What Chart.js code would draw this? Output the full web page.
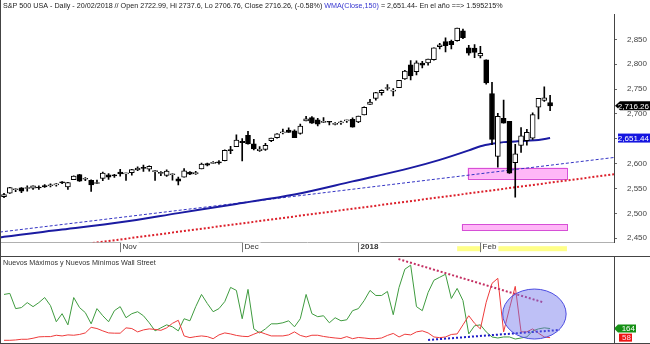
<!DOCTYPE html>
<html>
<head>
<meta charset="utf-8">
<script src="https://cdn.jsdelivr.net/npm/chart.js@4.4.1/dist/chart.umd.min.js"></script>
<style>
  body { margin: 0; background: #fff; }
  #wrap { position: relative; width: 650px; height: 344px; }
  .box { position: absolute; left: 0; width: 650px; }
</style>
</head>
<body>
<div id="wrap">
  <div class="box" style="top:0;height:257px"><canvas id="main"></canvas></div>
  <div class="box" style="top:257px;height:87px"><canvas id="ind"></canvas></div>
</div>
<script>
// trading days shown (dd/mm)
const days = [
  '04/10','05/10','06/10','09/10','10/10','11/10','12/10','13/10','16/10','17/10','18/10','19/10','20/10','23/10','24/10','25/10','26/10','27/10','30/10','31/10',
  '01/11','02/11','03/11','06/11','07/11','08/11','09/11','10/11','13/11','14/11','15/11','16/11','17/11','20/11','21/11','22/11','24/11','27/11','28/11','29/11','30/11',
  '01/12','04/12','05/12','06/12','07/12','08/12','11/12','12/12','13/12','14/12','15/12','18/12','19/12','20/12','21/12','22/12','26/12','27/12','28/12','29/12',
  '02/01','03/01','04/01','05/01','08/01','09/01','10/01','11/01','12/01','16/01','17/01','18/01','19/01','22/01','23/01','24/01','25/01','26/01','29/01','30/01','31/01',
  '01/02','02/02','05/02','06/02','07/02','08/02','09/02','12/02','13/02','14/02','15/02','16/02','20/02'
];

const opens = [
  2533.48,2540.86,2547.44,2551.39,2549.99,2550.62,2552.88,2555.66,2555.57,2557.17,2562.87,2553.39,2567.56,2578.08,2568.66,2566.52,2560.08,2570.26,2577.75,2575.99,
  2583.21,2579.46,2581.93,2587.47,2592.11,2588.71,2584.00,2580.18,2576.53,2577.75,2569.45,2572.95,2582.94,2579.49,2589.17,2600.31,2600.42,2602.66,2605.94,2627.82,2633.93,
  2645.10,2657.19,2639.78,2626.24,2628.38,2646.21,2652.19,2661.73,2667.59,2665.87,2660.63,2685.92,2692.71,2688.18,2683.02,2684.22,2679.09,2682.10,2686.10,2689.15,
  2683.73,2697.85,2719.31,2731.33,2742.67,2751.15,2745.55,2752.97,2770.18,2798.96,2784.99,2802.40,2802.60,2809.16,2835.05,2845.42,2846.24,2847.48,2867.23,2832.74,2832.41,
  2816.45,2808.92,2741.06,2614.78,2690.95,2685.01,2601.78,2636.75,2646.27,2651.21,2713.46,2727.14,2722.99
];
const highs = [
  2540.53,2552.51,2549.41,2551.82,2555.23,2555.24,2555.33,2557.65,2559.47,2559.71,2564.11,2562.36,2575.44,2578.29,2572.18,2567.40,2567.07,2582.98,2580.03,2578.29,
  2588.40,2581.11,2588.42,2593.38,2597.02,2595.47,2586.50,2583.81,2587.66,2579.66,2572.84,2590.09,2583.96,2584.64,2601.19,2600.94,2604.21,2606.41,2627.69,2634.89,2657.74,
  2650.62,2665.19,2648.72,2634.41,2640.99,2651.65,2660.33,2669.72,2671.88,2668.09,2679.63,2694.97,2694.44,2691.01,2692.64,2685.35,2682.74,2685.64,2687.66,2692.12,
  2695.89,2714.37,2729.29,2743.45,2748.51,2759.14,2750.80,2767.56,2787.85,2807.54,2807.04,2805.83,2810.33,2833.03,2842.24,2852.97,2848.56,2872.87,2870.62,2837.75,2839.26,
  2835.96,2808.92,2763.39,2701.04,2727.67,2685.27,2638.67,2672.61,2668.84,2702.10,2731.51,2754.42,2737.60
];
const lows = [
  2531.80,2540.02,2543.79,2541.60,2544.86,2547.95,2548.31,2552.09,2553.24,2554.69,2559.67,2547.92,2567.56,2564.33,2565.58,2544.00,2559.80,2565.94,2568.25,2572.15,
  2574.92,2566.17,2576.77,2585.66,2584.35,2585.02,2566.33,2575.57,2574.48,2566.56,2557.45,2572.95,2577.62,2578.24,2589.17,2595.23,2600.42,2598.87,2605.44,2620.32,2633.93,
  2605.52,2639.03,2627.73,2624.75,2626.53,2644.10,2651.47,2659.78,2662.85,2652.01,2659.14,2685.92,2680.74,2676.11,2682.40,2678.13,2677.96,2678.91,2682.69,2673.61,
  2682.36,2697.77,2719.07,2727.92,2737.60,2747.86,2736.06,2752.78,2769.64,2768.64,2778.38,2792.56,2798.08,2808.12,2830.59,2824.81,2830.94,2846.18,2851.48,2818.27,2813.04,
  2812.70,2759.97,2638.17,2593.07,2681.33,2580.56,2532.69,2622.45,2637.08,2648.87,2689.82,2725.11,2706.76
];
const closes = [
  2537.74,2552.07,2549.33,2544.73,2550.64,2555.24,2550.93,2553.17,2557.64,2559.36,2561.26,2562.10,2575.21,2564.98,2569.13,2557.15,2560.40,2581.07,2572.83,2575.26,
  2579.36,2579.85,2587.84,2591.13,2590.64,2594.38,2584.62,2582.30,2584.84,2578.87,2564.62,2585.64,2578.85,2582.14,2599.03,2597.08,2602.42,2601.42,2627.04,2626.07,2647.58,
  2642.22,2639.44,2629.57,2629.27,2636.98,2651.50,2659.99,2664.11,2662.85,2652.01,2675.81,2690.16,2681.47,2679.25,2684.57,2683.34,2680.50,2682.62,2687.54,2673.61,
  2695.81,2713.06,2723.99,2743.15,2747.71,2751.29,2748.23,2767.56,2786.24,2776.42,2802.56,2798.03,2810.30,2832.97,2839.13,2837.54,2839.25,2872.87,2853.53,2822.43,2823.81,
  2821.98,2762.13,2648.94,2695.14,2681.66,2581.00,2619.55,2656.00,2662.94,2698.63,2731.20,2732.22,2716.26
];

// WMA(Close,150) (candle index -> value)
const wmaIdx  = [-0.69, 0, 10, 20, 30, 40, 50, 60, 70, 75, 80, 82, 84, 86, 88, 90, 92, 94];
const wmaVals = [2451.5, 2452.8, 2467.4, 2482, 2500.5, 2519, 2537.8, 2564.3, 2591.5, 2607.6, 2626.7, 2635, 2640, 2643.3, 2644.6, 2646, 2647.8, 2651.44];

// new highs / new lows (lower panel)
const newHighs = [
  561,573,396,408,466,419,466,525,431,243,337,207,525,408,349,219,396,313,243,372,
  419,290,337,360,313,231,137,172,207,184,137,278,254,419,561,455,360,396,478,643,608,
  278,620,160,113,160,219,219,231,254,184,278,561,337,302,313,231,290,254,266,372,
  396,490,608,549,549,596,325,643,855,902,419,372,584,726,761,796,514,631,490,101,196,
  207,125,66,54,66,66,42,54,66,137,160,172,164
];
const newLows = [
  27,27,31,39,39,51,67,70,70,86,78,90,86,95,113,178,164,137,113,110,
  110,172,164,125,148,160,154,143,172,225,260,78,58,70,78,70,46,90,113,101,84,
  74,70,98,125,101,78,78,78,90,125,84,66,86,86,72,62,54,48,70,46,
  60,54,46,46,54,84,107,66,98,90,125,137,113,66,58,66,95,101,207,313,225,
  160,470,690,749,125,396,655,125,125,160,110,66,58
];

// axis ticks
const xMin = -0.69, xMax = 105;
const monthTicks = [20, 41, 61, 82];
const monthLabels = ['Nov', 'Dec', '2018', 'Feb'];
const priceTicks = [2450, 2500, 2550, 2600, 2650, 2700, 2750, 2800, 2850];

// drawn studies (candle index / price)
const blueTrend = [{x: -0.69, y: 2462.4}, {x: 105, y: 2612.4}];
const redTrend = [{x: 15.27, y: 2440.2}, {x: 105, y: 2578.7}];
const zoneStart = [79.8, 78.8], zoneEnd = [96.9, 96.9];
const zoneLow = [2569.3, 2465.6], zoneHigh = [2592, 2478.5];
const bandRange = [78, 96.9];
const highsTrend = [{x: 67.9, y: 973}, {x: 92.8, y: 470}];
const lowsTrend = [{x: 73, y: 31}, {x: 95.7, y: 148}];
const ellipseCenter = [91.3, 333], ellipseRadius = [5.46, 291];

const FONT = '"Liberation Sans", Arial, sans-serif';
const last = closes.length - 1;

function fitFont(ctx, text, width, weight) {
  ctx.font = (weight || '') + ' 10px ' + FONT;
  const s = 10 * width / ctx.measureText(text).width;
  return (weight || '') + ' ' + s.toFixed(2) + 'px ' + FONT;
}

function tag(ctx, text, x0, x1, yMid, h, bg, fg, arrow) {
  ctx.fillStyle = bg;
  ctx.beginPath();
  if (arrow) {
    ctx.moveTo(x0 - arrow, yMid);
    ctx.lineTo(x0, yMid - h / 2);
  } else {
    ctx.moveTo(x0, yMid - h / 2);
  }
  ctx.lineTo(x1, yMid - h / 2);
  ctx.lineTo(x1, yMid + h / 2);
  ctx.lineTo(x0, yMid + h / 2);
  ctx.closePath();
  ctx.fill();
  ctx.fillStyle = fg;
  ctx.font = '8px ' + FONT;
  ctx.textAlign = 'right';
  ctx.textBaseline = 'middle';
  ctx.fillText(text, x1 - 1, yMid + 0.5);
}

const mainDecor = {
  id: 'mainDecor',
  beforeDraw(chart) {
    const {ctx, scales: {x}, chartArea} = chart;
    const a = x.getPixelForValue(bandRange[0]), b = x.getPixelForValue(bandRange[1]);
    ctx.save();
    ctx.fillStyle = '#ffff88';
    ctx.fillRect(a, chartArea.bottom + 4, b - a, 5);
    ctx.restore();
  },
  beforeDatasetsDraw(chart) {
    const {ctx, scales: {x, y}} = chart;
    ctx.save();
    for (let i = 0; i < zoneStart.length; i++) {
      const x0 = x.getPixelForValue(zoneStart[i]), x1 = x.getPixelForValue(zoneEnd[i]);
      const y0 = y.getPixelForValue(zoneHigh[i]), y1 = y.getPixelForValue(zoneLow[i]);
      ctx.fillStyle = 'rgba(255,165,245,0.8)';
      ctx.fillRect(x0, y0, x1 - x0, y1 - y0);
      ctx.strokeStyle = '#d64fd6';
      ctx.lineWidth = 1;
      ctx.strokeRect(Math.round(x0) + 0.5, Math.round(y0) + 0.5, Math.round(x1 - x0), Math.round(y1 - y0));
    }
    ctx.restore();
  },
  afterDraw(chart) {
    const {ctx, scales: {y}, width} = chart;
    ctx.save();
    // title
    const p1 = 'S&P 500 USA - Daily - 20/02/2018 // Open 2722.99, Hi 2737.6, Lo 2706.76, Close 2716.26, (-0.58%) ';
    const p2 = 'WMA(Close,150)';
    const p3 = ' = 2,651.44- En el año ==> 1.595215%';
    ctx.font = fitFont(ctx, p1 + p2 + p3, 500);
    ctx.textAlign = 'left';
    ctx.textBaseline = 'middle';
    let tx = 3;
    ctx.fillStyle = '#1a1a1a'; ctx.fillText(p1, tx, 6); tx += ctx.measureText(p1).width;
    ctx.fillStyle = '#3535d0'; ctx.fillText(p2, tx, 6); tx += ctx.measureText(p2).width;
    ctx.fillStyle = '#1a1a1a'; ctx.fillText(p3, tx, 6);
    // price tags
    tag(ctx, closes[last].toLocaleString('en-US', {minimumFractionDigits: 2}), 620, 650, y.getPixelForValue(closes[last]), 9, '#000', '#fff', 5);
    tag(ctx, wmaVals[wmaVals.length - 1].toLocaleString('en-US', {minimumFractionDigits: 2}), 618, 650, y.getPixelForValue(wmaVals[wmaVals.length - 1]), 9, '#1515e0', '#fff', 0);
    // frame
    ctx.strokeStyle = '#444';
    ctx.lineWidth = 1;
    ctx.beginPath();
    ctx.moveTo(0.5, 0); ctx.lineTo(0.5, 257);
    ctx.moveTo(0, 256.5); ctx.lineTo(width, 256.5);
    ctx.stroke();
    ctx.restore();
  }
};

const indDecor = {
  id: 'indDecor',
  afterDatasetsDraw(chart) {
    const {ctx, scales: {x, y}} = chart;
    const cx = x.getPixelForValue(ellipseCenter[0]), cy = y.getPixelForValue(ellipseCenter[1]);
    const rx = x.getPixelForValue(ellipseCenter[0] + ellipseRadius[0]) - cx;
    const ry = cy - y.getPixelForValue(ellipseCenter[1] + ellipseRadius[1]);
    ctx.save();
    ctx.beginPath();
    ctx.ellipse(cx, cy, rx, ry, 0, 0, Math.PI * 2);
    ctx.fillStyle = 'rgba(110,115,235,0.45)';
    ctx.fill();
    ctx.strokeStyle = '#4b4be0';
    ctx.lineWidth = 1;
    ctx.stroke();
    ctx.restore();
  },
  afterDraw(chart) {
    const {ctx, scales: {y}, chartArea, width, height} = chart;
    ctx.save();
    const t = 'Nuevos Máximos y Nuevos Mínimos Wall Street';
    ctx.font = fitFont(ctx, t, 153);
    ctx.fillStyle = '#333';
    ctx.textAlign = 'left';
    ctx.textBaseline = 'middle';
    ctx.fillText(t, 3, 6);
    tag(ctx, String(newHighs[last]), 618, 636, y.getPixelForValue(newHighs[last]), 8, '#159015', '#fff', 4);
    tag(ctx, String(newLows[last]), 619, 632, y.getPixelForValue(newLows[last]), 8, '#ee1414', '#fde', 0);
    ctx.strokeStyle = '#444';
    ctx.lineWidth = 1;
    ctx.beginPath();
    ctx.moveTo(0.5, 0); ctx.lineTo(0.5, height);
    ctx.moveTo(chartArea.right + 0.5, 0); ctx.lineTo(chartArea.right + 0.5, height);
    ctx.moveTo(0, height - 0.5); ctx.lineTo(width, height - 0.5);
    ctx.stroke();
    ctx.restore();
  }
};

const idx = days.map((d, i) => i);

new Chart(document.getElementById('main'), {
  type: 'bar',
  data: {
    datasets: [
      {
        type: 'line', label: 'blueTrend', data: blueTrend, borderColor: '#3434c4', borderWidth: 1,
        borderDash: [3, 2], pointRadius: 0, order: 5
      },
      {
        type: 'line', label: 'redTrend', data: redTrend, borderColor: '#dc1f2a', borderWidth: 2,
        borderDash: [2, 2], pointRadius: 0, order: 5
      },
      {
        type: 'line', label: 'WMA', data: wmaIdx.map((v, i) => ({x: v, y: wmaVals[i]})),
        borderColor: '#1b1ba2', borderWidth: 2, pointRadius: 0, cubicInterpolationMode: 'monotone', order: 4
      },
      {
        label: 'wick', data: idx.map(i => ({x: i, y: [lows[i], highs[i]]})),
        backgroundColor: '#000', borderWidth: 0, barThickness: 1, grouped: false, order: 3
      },
      {
        label: 'body', data: idx.map(i => ({x: i, y: [opens[i], closes[i]]})),
        backgroundColor: idx.map(i => closes[i] >= opens[i] ? '#fff' : '#000'),
        borderColor: '#000', borderWidth: 1, borderSkipped: false, minBarLength: 1,
        barThickness: 5, grouped: false, order: 2
      }
    ]
  },
  options: {
    responsive: true, maintainAspectRatio: false, animation: false, events: [],
    layout: {padding: 0},
    plugins: {legend: {display: false}, tooltip: {enabled: false}},
    scales: {
      x: {
        type: 'linear', min: xMin, max: xMax, position: 'bottom', offset: false,
        afterFit: s => { s.height = 10; },
        afterBuildTicks: s => { s.ticks = monthTicks.map(v => ({value: v})); },
        grid: {drawOnChartArea: false, tickLength: 10, color: '#777', offset: false},
        border: {color: '#b0b0b0'},
        ticks: {
          callback: (v, i) => ' ' + monthLabels[i],
          align: 'start', padding: -10, maxRotation: 0, autoSkip: false, color: '#333',
          font: c => ({family: FONT, size: 8, weight: c.index === 2 ? 'bold' : 'normal'}),
          showLabelBackdrop: true, backdropColor: '#fff',
          backdropPadding: {left: -1, right: 2, top: 0, bottom: 0}
        }
      },
      y: {
        type: 'linear', position: 'right', min: 2442, max: 2899.4,
        afterFit: s => { s.width = 36; },
        afterBuildTicks: s => { s.ticks = priceTicks.map(v => ({value: v})); },
        grid: {drawOnChartArea: false, tickLength: 3, color: '#666'},
        border: {color: '#444'},
        ticks: {
          callback: v => v.toLocaleString('en-US'),
          padding: 10, color: '#444', font: {family: FONT, size: 8}
        }
      }
    }
  },
  plugins: [mainDecor]
});

new Chart(document.getElementById('ind'), {
  type: 'line',
  data: {
    datasets: [
      {
        label: 'Nuevos Máximos', data: idx.map(i => ({x: i, y: newHighs[i]})),
        borderColor: '#3f9b3f', borderWidth: 1, pointRadius: 0, order: 3
      },
      {
        label: 'Nuevos Mínimos', data: idx.map(i => ({x: i, y: newLows[i]})),
        borderColor: '#ee3b3b', borderWidth: 1, pointRadius: 0, order: 2
      },
      {
        label: 'highsTrend', data: highsTrend, borderColor: '#c42f62', borderWidth: 2,
        borderDash: [2, 2], pointRadius: 0, order: 1
      },
      {
        label: 'lowsTrend', data: lowsTrend, borderColor: '#1c1cc8', borderWidth: 2,
        borderDash: [2, 2], pointRadius: 0, order: 1
      }
    ]
  },
  options: {
    responsive: true, maintainAspectRatio: false, animation: false, events: [],
    layout: {padding: {left: 0, right: 36, top: 0, bottom: 0}},
    plugins: {legend: {display: false}, tooltip: {enabled: false}},
    scales: {
      x: {type: 'linear', min: xMin, max: xMax, display: false},
      y: {type: 'linear', min: -16, max: 997, display: false}
    }
  },
  plugins: [indDecor]
});
</script>
</body>
</html>
